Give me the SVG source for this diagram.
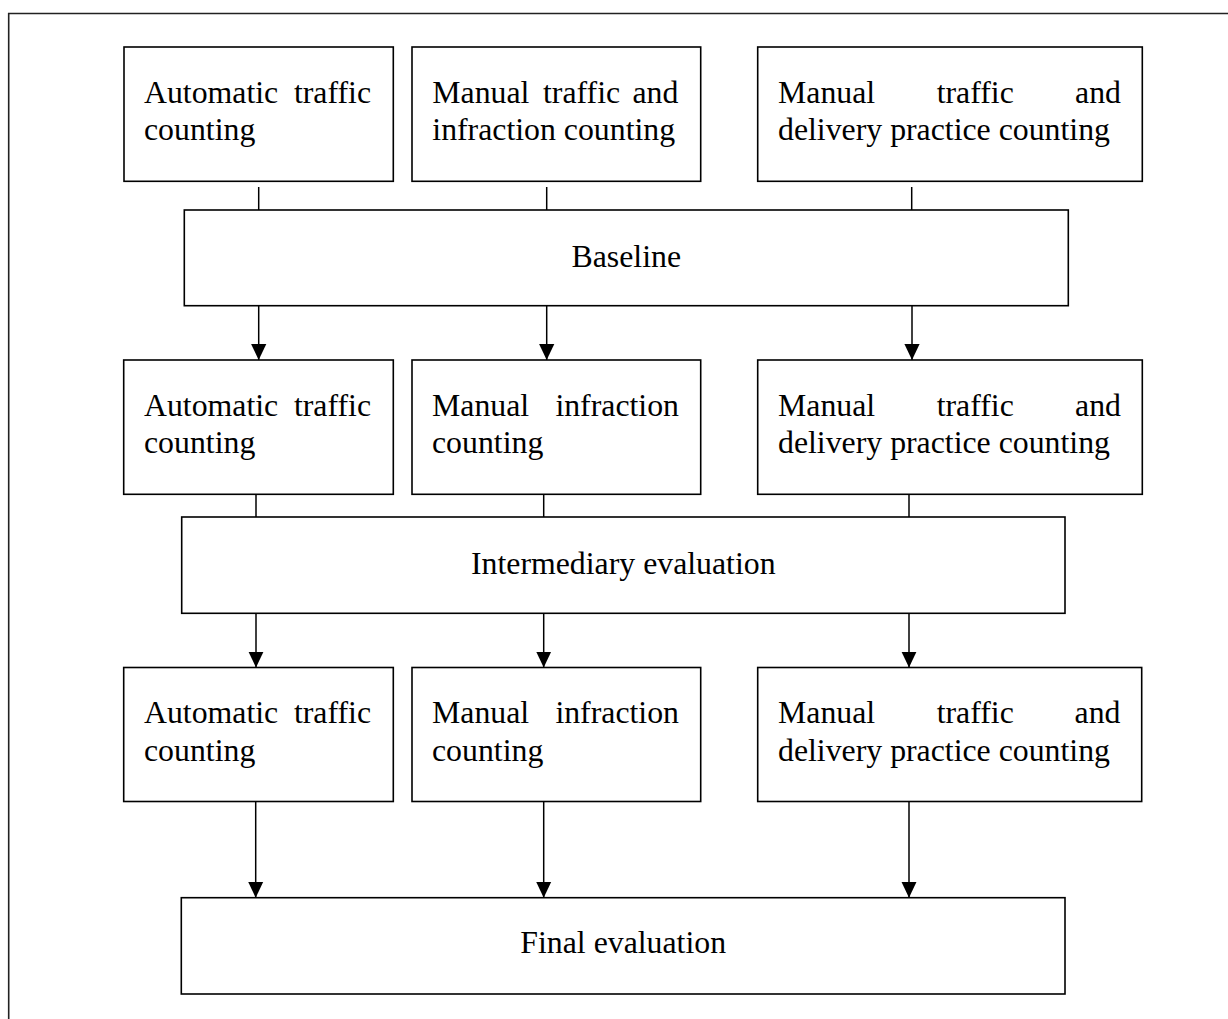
<svg xmlns="http://www.w3.org/2000/svg" width="1228" height="1019" viewBox="0 0 1228 1019">
  <style>
    .box { fill: #ffffff; stroke: #000000; stroke-width: 1.6; }
    .frame { fill: none; stroke: #222222; stroke-width: 1.6; }
    .conn { fill: none; stroke: #000000; stroke-width: 1.5; }
    .arr { fill: none; stroke: #000000; stroke-width: 1.5; marker-end: url(#ah); }
    text { font-family: "Liberation Serif", "Times New Roman", serif; font-size: 31.8px; fill: #000000; }
    .mid { text-anchor: middle; }
    .end { text-anchor: end; }
  </style>
  <defs>
    <marker id="ah" markerUnits="userSpaceOnUse" markerWidth="16" markerHeight="16" viewBox="0 0 16 16" refX="16" refY="8" orient="auto">
      <path d="M0,0.4 L16,8 L0,15.6 Z" fill="#000000"/>
    </marker>
  </defs>
  <rect width="1228" height="1019" fill="#ffffff"/>
  <path class="frame" d="M8.7,1019 V13.5 H1228"/>

  <g id="connectors">
    <line class="conn" x1="258.7" y1="187" x2="258.7" y2="210"/>
    <line class="conn" x1="546.7" y1="187" x2="546.7" y2="210"/>
    <line class="conn" x1="911.7" y1="187" x2="911.7" y2="210"/>
    <line class="arr" x1="258.7" y1="305.7" x2="258.7" y2="360"/>
    <line class="arr" x1="546.7" y1="305.7" x2="546.7" y2="360"/>
    <line class="arr" x1="912" y1="305.7" x2="912" y2="360"/>
    <line class="conn" x1="256" y1="494" x2="256" y2="517"/>
    <line class="conn" x1="543.7" y1="494" x2="543.7" y2="517"/>
    <line class="conn" x1="909" y1="494" x2="909" y2="517"/>
    <line class="arr" x1="256" y1="613.3" x2="256" y2="667.5"/>
    <line class="arr" x1="543.7" y1="613.3" x2="543.7" y2="667.5"/>
    <line class="arr" x1="909" y1="613.3" x2="909" y2="667.5"/>
    <line class="arr" x1="255.7" y1="801.5" x2="255.7" y2="897.7"/>
    <line class="arr" x1="543.7" y1="801.5" x2="543.7" y2="897.7"/>
    <line class="arr" x1="909" y1="801.5" x2="909" y2="897.7"/>
  </g>

  <g id="r1-auto">
    <rect class="box" x="124" y="47" width="269.3" height="134.3"/>
    <text x="144" y="103">Automatic</text>
    <text class="end" x="371" y="103">traffic</text>
    <text x="144" y="140">counting</text>
  </g>
  <g id="r1-manual-infraction">
    <rect class="box" x="412" y="47" width="288.7" height="134.3"/>
    <text x="432.3" y="103">Manual</text>
    <text x="543" y="103">traffic</text>
    <text class="end" x="678.3" y="103">and</text>
    <text x="432.3" y="140">infraction counting</text>
  </g>
  <g id="r1-manual-delivery">
    <rect class="box" x="757.7" y="47" width="384.6" height="134.3"/>
    <text x="778" y="103">Manual</text>
    <text x="936.7" y="103">traffic</text>
    <text class="end" x="1121" y="103">and</text>
    <text x="778" y="140">delivery practice counting</text>
  </g>

  <g id="baseline">
    <rect class="box" x="184.3" y="210" width="884" height="95.7"/>
    <text class="mid" x="626.3" y="267">Baseline</text>
  </g>

  <g id="r2-auto">
    <rect class="box" x="123.7" y="360" width="269.6" height="134.3"/>
    <text x="144" y="415.5">Automatic</text>
    <text class="end" x="371" y="415.5">traffic</text>
    <text x="144" y="453">counting</text>
  </g>
  <g id="r2-manual-infraction">
    <rect class="box" x="412" y="360" width="288.7" height="134.3"/>
    <text x="432" y="415.5">Manual</text>
    <text class="end" x="679" y="415.5">infraction</text>
    <text x="432" y="453">counting</text>
  </g>
  <g id="r2-manual-delivery">
    <rect class="box" x="757.7" y="360" width="384.6" height="134.3"/>
    <text x="778" y="415.5">Manual</text>
    <text x="936.7" y="415.5">traffic</text>
    <text class="end" x="1121" y="415.5">and</text>
    <text x="778" y="453">delivery practice counting</text>
  </g>

  <g id="intermediary">
    <rect class="box" x="181.7" y="517" width="883.3" height="96.3"/>
    <text class="mid" x="623.3" y="574.3">Intermediary evaluation</text>
  </g>

  <g id="r3-auto">
    <rect class="box" x="123.7" y="667.5" width="269.6" height="134"/>
    <text x="144" y="723.3">Automatic</text>
    <text class="end" x="371" y="723.3">traffic</text>
    <text x="144" y="760.8">counting</text>
  </g>
  <g id="r3-manual-infraction">
    <rect class="box" x="412" y="667.5" width="288.7" height="134"/>
    <text x="432" y="723.3">Manual</text>
    <text class="end" x="679" y="723.3">infraction</text>
    <text x="432" y="760.8">counting</text>
  </g>
  <g id="r3-manual-delivery">
    <rect class="box" x="757.7" y="667.5" width="384" height="134"/>
    <text x="778" y="723.3">Manual</text>
    <text x="936.7" y="723.3">traffic</text>
    <text class="end" x="1120.5" y="723.3">and</text>
    <text x="778" y="760.8">delivery practice counting</text>
  </g>

  <g id="final">
    <rect class="box" x="181.3" y="897.7" width="883.7" height="96.3"/>
    <text class="mid" x="623.2" y="953.3">Final evaluation</text>
  </g>
</svg>
